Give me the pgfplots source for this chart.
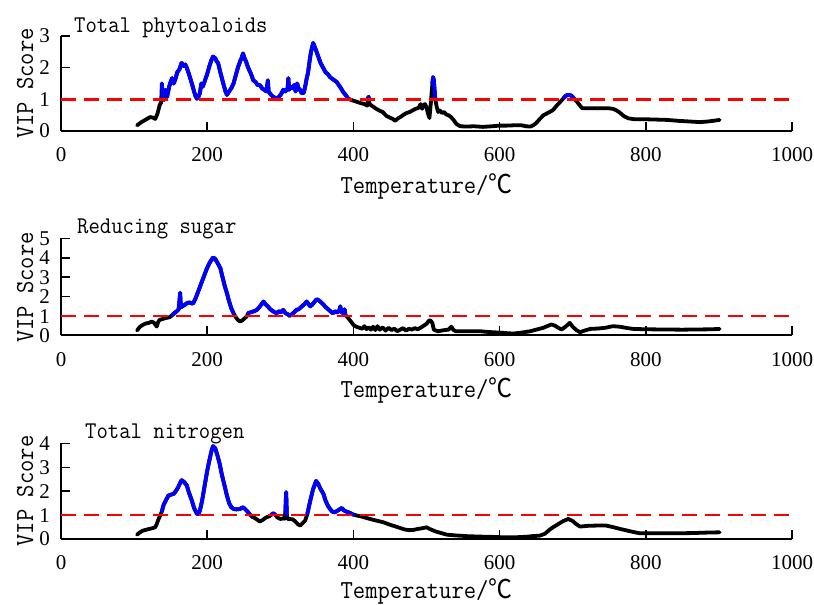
\documentclass[border=0pt]{standalone}
\usepackage{fontspec}
\newfontfamily\numfont{Liberation Serif}
\newfontfamily\cjk{Noto Sans CJK SC}
\usepackage{graphicx}
\usepackage{pgfplots}
\usepackage{pgfplotstable}
\pgfplotsset{compat=1.18}
\newcommand{\lab}[2]{\scalebox{0.92}[1]{\ttfamily\fontsize{#1}{#1}\selectfont #2}}

\pgfplotstableread{
x y
104 0.18
110 0.28
116 0.36
122 0.44
126 0.42
129 0.38
132 0.55
135 0.82
137 0.90
138 1.50
139 1.05
141 0.98
143 1.30
145 1.07
148 1.40
150 1.55
152 1.67
154 1.50
156 1.60
159 1.85
162 1.95
165 2.15
168 2.05
170 2.10
172 2.00
175 1.80
179 1.50
182 1.25
184 1.10
186 1.02
188 1.08
190 1.20
192 1.50
194 1.40
197 1.60
200 1.80
203 2.05
206 2.25
208 2.35
211 2.30
213 2.20
215 2.14
218 1.85
222 1.50
225 1.25
227 1.14
230 1.25
233 1.35
236 1.50
239 1.75
242 2.00
245 2.20
247 2.30
249 2.45
251 2.30
253 2.20
256 2.00
260 1.80
263 1.60
266 1.55
269 1.45
272 1.45
275 1.35
278 1.30
281 1.25
283 1.60
284 1.25
287 1.15
290 1.08
293 1.05
296 1.03
299 1.10
302 1.20
304 1.30
307 1.25
310 1.35
311 1.67
312 1.30
314 1.40
316 1.35
319 1.45
321 1.25
323 1.50
325 1.35
327 1.30
329 1.20
332 1.20
334 1.40
336 1.65
338 1.85
340 2.20
342 2.50
345 2.78
348 2.60
352 2.35
355 2.15
359 1.98
362 1.85
365 1.80
368 1.70
371 1.65
374 1.60
377 1.55
380 1.45
383 1.35
386 1.23
389 1.15
393 1.02
397 0.98
401 0.95
405 0.92
410 0.88
415 0.85
419 0.80
420 1.05
421 1.08
422 0.85
425 0.80
430 0.72
435 0.65
440 0.60
445 0.48
450 0.42
454 0.38
457 0.32
461 0.40
465 0.45
469 0.52
473 0.57
477 0.60
481 0.65
485 0.70
489 0.73
492 0.85
494 0.70
496 0.82
498 0.85
500 0.75
502 0.55
504 0.41
506 0.90
508 1.50
509 1.70
510 1.60
512 1.00
514 0.76
516 0.60
518 0.65
521 0.57
524 0.60
527 0.52
530 0.50
533 0.45
537 0.35
541 0.22
546 0.15
555 0.14
565 0.15
577 0.13
590 0.15
600 0.17
610 0.17
620 0.18
630 0.18
636 0.15
642 0.14
646 0.18
650 0.25
655 0.38
660 0.50
666 0.57
673 0.66
678 0.80
683 0.92
688 1.05
691 1.12
694 1.14
698 1.12
702 1.02
706 0.92
710 0.80
713 0.72
720 0.72
730 0.72
740 0.72
748 0.72
755 0.70
760 0.65
765 0.57
770 0.47
776 0.40
785 0.37
800 0.37
815 0.36
829 0.35
845 0.32
860 0.30
874 0.28
885 0.30
895 0.33
901 0.35
}\dataA

\pgfplotstableread{
x y
104 0.26
108 0.45
112 0.55
116 0.62
120 0.65
124 0.72
127 0.66
131 0.46
133 0.70
135 0.81
139 0.85
143 0.90
146 0.92
149 0.95
152 1.05
155 1.15
158 1.24
161 1.35
163 2.20
164 1.45
166 1.50
170 1.60
173 1.68
176 1.70
179 1.65
181 1.67
184 1.90
187 2.20
190 2.50
193 2.80
196 3.10
199 3.40
202 3.65
205 3.85
208 4.02
211 3.95
214 3.75
218 3.47
221 3.00
224 2.55
227 2.18
230 1.75
233 1.40
236 1.15
239 0.95
242 0.80
245 0.72
248 0.78
251 0.88
254 0.98
256 1.15
260 1.20
264 1.25
268 1.32
271 1.45
274 1.60
277 1.75
280 1.60
283 1.50
286 1.36
289 1.28
292 1.20
295 1.15
298 1.25
301 1.20
304 1.32
307 1.15
310 1.10
313 1.01
316 1.10
319 1.20
322 1.32
325 1.35
328 1.45
331 1.55
334 1.65
336 1.75
339 1.60
341 1.50
344 1.60
347 1.75
350 1.87
353 1.80
356 1.70
359 1.60
361 1.50
364 1.40
367 1.30
370 1.20
372 1.15
375 1.25
378 1.18
381 1.30
382 1.50
384 1.20
386 1.15
388 1.35
389 1.05
391 0.98
394 0.85
397 0.70
400 0.55
404 0.45
408 0.40
412 0.35
415 0.48
418 0.33
421 0.42
424 0.30
427 0.45
430 0.28
433 0.48
436 0.30
440 0.42
444 0.25
448 0.40
452 0.28
456 0.35
460 0.22
464 0.30
468 0.38
472 0.25
476 0.35
480 0.30
484 0.38
488 0.32
492 0.40
496 0.50
500 0.60
503 0.75
505 0.79
508 0.65
510 0.30
513 0.25
516 0.22
520 0.25
525 0.28
530 0.30
534 0.45
537 0.28
540 0.22
550 0.22
560 0.22
573 0.22
585 0.18
600 0.15
610 0.12
619 0.10
630 0.15
642 0.22
652 0.32
660 0.40
665 0.48
671 0.57
676 0.50
680 0.40
685 0.31
690 0.45
696 0.65
700 0.45
705 0.28
710 0.17
716 0.25
724 0.34
735 0.36
745 0.40
755 0.48
765 0.45
775 0.38
783 0.34
800 0.32
824 0.31
850 0.30
870 0.31
890 0.32
901 0.34
}\dataB

\pgfplotstableread{
x y
104 0.18
108 0.28
112 0.35
118 0.40
122 0.43
126 0.46
129 0.50
131 0.63
133 0.80
135 0.94
138 1.15
140 1.40
144 1.65
147 1.82
150 1.85
154 1.89
157 2.00
160 2.15
163 2.35
165 2.46
168 2.40
172 2.25
175 1.95
179 1.61
182 1.30
186 1.05
188 1.05
190 1.19
193 1.60
197 2.32
200 2.85
203 3.30
206 3.70
208 3.89
211 3.80
214 3.50
217 3.16
220 2.70
224 2.20
227 1.82
230 1.50
233 1.33
236 1.26
240 1.24
245 1.26
249 1.33
252 1.25
256 1.12
259 1.00
262 0.92
265 0.88
268 0.82
272 0.73
276 0.80
281 0.91
285 0.95
288 1.02
290 1.08
293 1.02
296 0.90
300 0.84
304 0.86
306 0.85
307 1.20
308 1.96
309 1.00
310 0.84
313 0.84
317 0.82
320 0.75
324 0.62
327 0.56
330 0.65
334 0.77
337 1.05
341 1.61
345 2.10
349 2.43
352 2.30
355 2.10
359 1.89
362 1.60
365 1.40
368 1.26
371 1.15
374 1.12
377 1.16
380 1.22
384 1.30
387 1.20
390 1.15
393 1.12
396 1.08
400 1.02
405 0.98
410 0.95
418 0.88
425 0.82
433 0.76
441 0.70
448 0.62
455 0.55
464 0.46
470 0.40
476 0.37
482 0.38
488 0.42
494 0.45
500 0.49
506 0.40
512 0.32
520 0.25
528 0.18
540 0.15
555 0.12
573 0.10
590 0.09
605 0.07
619 0.07
635 0.09
645 0.12
655 0.14
662 0.22
668 0.38
673 0.49
680 0.62
687 0.75
694 0.84
700 0.75
705 0.62
710 0.52
720 0.55
730 0.56
740 0.57
746 0.56
755 0.50
765 0.42
775 0.35
785 0.28
792 0.24
810 0.24
830 0.24
847 0.24
865 0.25
885 0.27
901 0.28
}\dataC

\pgfplotsset{
  vipaxis/.style={
    scale only axis, width=731pt, anchor=south west,
    xmin=0, xmax=1000, ymin=0,
    axis x line=bottom, axis y line=left,
    axis line style={-, line width=2pt},
    xtick={0,200,...,1000},
    tick align=inside,
    major tick length=9pt,
    every tick/.style={black, line width=1.6pt},
    /pgf/number format/assume math mode=true,
    /pgf/number format/1000 sep={},
    xticklabel={\numfont\fontsize{21}{21}\selectfont\pgfmathprintnumber{\tick}},
    yticklabel={\numfont\fontsize{21}{21}\selectfont\pgfmathprintnumber{\tick}},
    xticklabel style={anchor=north, inner sep=0pt, yshift=-16.5pt},
    yticklabel style={anchor=east, inner sep=0pt, xshift=-11pt},
    clip=false,
  },
  blk/.style={black, line width=3.8pt, line join=round, line cap=round},
  blu/.style={blue, line width=3.8pt, line join=round, line cap=round, restrict y to domain=1:10, unbounded coords=jump},
  thr/.style={red, line width=2.6pt, dash pattern=on 15pt off 8pt},
}

\begin{document}
\begin{tikzpicture}
\useasboundingbox (0,0) rectangle (814pt,605pt);

% Panel 1
\begin{axis}[vipaxis, at={(61pt,474pt)}, height=95pt, ymax=3, ytick={0,1,2,3}]
\addplot[blk] table {\dataA};
\addplot[blu] table {\dataA};
\addplot[thr] coordinates {(0,1) (1000,1)};
\end{axis}

% Panel 2
\begin{axis}[vipaxis, at={(61pt,269.5pt)}, height=97pt, ymax=5, ytick={0,1,2,3,4,5}]
\addplot[blk] table {\dataB};
\addplot[blu] table {\dataB};
\addplot[thr] coordinates {(0,1) (1000,1)};
\end{axis}

% Panel 3
\begin{axis}[vipaxis, at={(61pt,66pt)}, height=95.5pt, ymax=4, ytick={0,1,2,3,4}]
\addplot[blk] table {\dataC};
\addplot[blu] table {\dataC};
\addplot[thr] coordinates {(0,1) (1000,1)};
\end{axis}

% titles
\node[anchor=base west, inner sep=0pt] at (74pt,572pt) {\lab{24}{Total phytoaloids}};
\node[anchor=base west, inner sep=0pt] at (77pt,371pt) {\lab{24}{Reducing sugar}};
\node[anchor=base west, inner sep=0pt] at (85pt,166pt) {\lab{24}{Total nitrogen}};

% x labels
\node[anchor=base, inner sep=0pt] at (426.5pt,411.5pt) {\lab{26}{Temperature/{\cjk ℃}}};
\node[anchor=base, inner sep=0pt] at (426.5pt,207pt) {\lab{26}{Temperature/{\cjk ℃}}};
\node[anchor=base, inner sep=0pt] at (426.5pt,6.5pt) {\lab{26}{Temperature/{\cjk ℃}}};

% y labels
\node[rotate=90, anchor=base, inner sep=0pt] at (33pt,521.5pt) {\lab{26}{VIP Score}};
\node[rotate=90, anchor=base, inner sep=0pt] at (33pt,317.5pt) {\lab{26}{VIP Score}};
\node[rotate=90, anchor=base, inner sep=0pt] at (33pt,114pt) {\lab{26}{VIP Score}};
\end{tikzpicture}
\end{document}
